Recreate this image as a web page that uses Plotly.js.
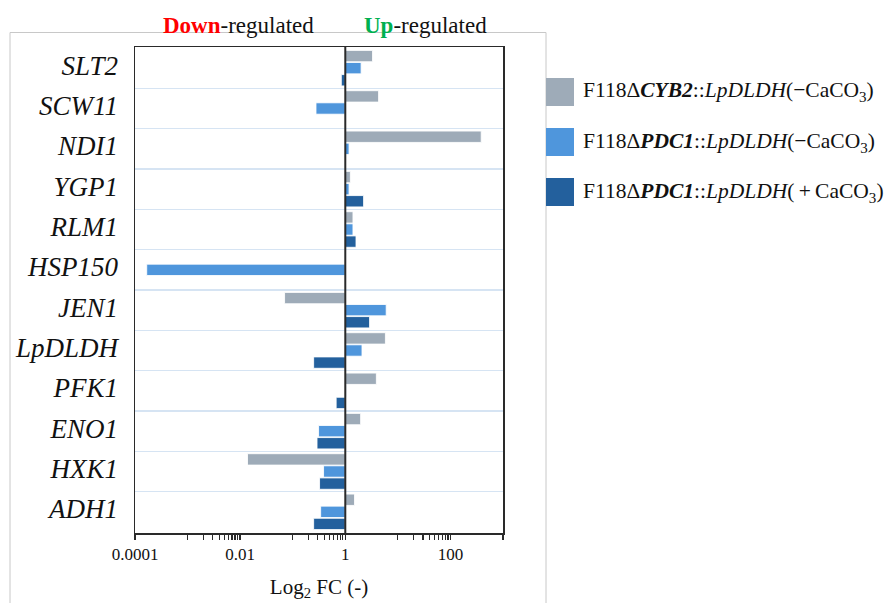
<!DOCTYPE html>
<html>
<head>
<meta charset="utf-8">
<script src="https://cdn.plot.ly/plotly-3.0.1.min.js"></script>
<style>html,body{margin:0;padding:0;background:#fff;}#chart{width:889px;height:603px;}</style>
</head>
<body>
<div id="chart"></div>
<script>
// ---- data ----
const genes = ["SLT2","SCW11","NDI1","YGP1","RLM1","HSP150","JEN1","LpDLDH","PFK1","ENO1","HXK1","ADH1"];
const cyb2_noCaCO3 = [3.3, 4.3, 385, 1.25, 1.4, null, 0.07, 5.8, 3.9, 1.96, 0.0138, 1.5];
const pdc1_noCaCO3 = [2.0, 0.277, 1.18, 1.18, 1.4, 0.000167, 6.0, 2.08, 1.04, 0.31, 0.386, 0.34];
const pdc1_CaCO3   = [0.84, null, null, 2.23, 1.6, null, 2.9, 0.25, 0.67, 0.29, 0.324, 0.25];
const seriesNames = [
  "F118Δ<b><i>CYB2</i></b>::<i>LpDLDH</i>(−CaCO<sub>3</sub>)",
  "F118Δ<b><i>PDC1</i></b>::<i>LpDLDH</i>(−CaCO<sub>3</sub>)",
  "F118Δ<b><i>PDC1</i></b>::<i>LpDLDH</i>(\u2009+\u2009CaCO<sub>3</sub>)"
];
const seriesColors = ["#9eabb8", "#4f96dc", "#23609d"];
const majorTicks = [1e-4, 1e-2, 1, 100];
const majorLabels = ["0.0001", "0.01", "1", "100"];
const minorTicks = [0.001,0.002,0.003,0.004,0.005,0.006,0.007,0.008,0.009,
                    0.1,0.2,0.3,0.4,0.5,0.6,0.7,0.8,0.9,
                    10,20,30,40,50,60,70,80,90,1000];

// ---- layout helpers (pixel -> paper) ----
const L = 135, R = 503, T = 47, B = 533;
const px = x => (x - L) / (R - L);
const py = y => (B - y) / (B - T);
const serif = "'Liberation Serif', 'DejaVu Serif', serif";

const allSeries = [cyb2_noCaCO3, pdc1_noCaCO3, pdc1_CaCO3];
const traces = allSeries.map((vals, i) => ({
  type: "bar",
  orientation: "h",
  y: genes,
  base: 1,
  x: vals.map(v => v === null ? null : v - 1),
  name: seriesNames[i],
  marker: {color: seriesColors[i], line: {color: "rgba(255,255,255,0.85)", width: 1}},
  hoverinfo: "skip"
}));

const shapes = [];
// outer chart border
shapes.push({type: "rect", xref: "paper", yref: "paper", x0: px(10), x1: px(546), y0: py(650), y1: py(32.5),
             line: {color: "#c8c8c8", width: 1}, fillcolor: "rgba(0,0,0,0)", layer: "above"});
// vertical axis line at x = 1
shapes.push({type: "line", xref: "x", yref: "paper", x0: 1, x1: 1, y0: 0, y1: 1,
             line: {color: "#2a2a2a", width: 2}});
// boundary tick marks on the x=1 axis
for (let i = 0; i <= genes.length; i++) {
  shapes.push({type: "line", xref: "x", yref: "y", xsizemode: "pixel", xanchor: 1,
               x0: -6, x1: 0, y0: i - 0.5, y1: i - 0.5, line: {color: "#2a2a2a", width: 2}});
}
// legend squares
const legY = [92, 142, 192];
const annotations = [];
for (let i = 0; i < 3; i++) {
  shapes.push({type: "rect", xref: "paper", yref: "paper", x0: px(546), x1: px(574),
               y0: py(legY[i] + 14), y1: py(legY[i] - 14), fillcolor: seriesColors[i],
               line: {width: 0}, layer: "above"});
  annotations.push({xref: "paper", yref: "paper", x: px(581), y: py(legY[i]), xanchor: "left", yanchor: "middle",
                    text: seriesNames[i], showarrow: false, font: {family: serif, size: 21.5, color: "#111"}});
}
annotations.push({xref: "paper", yref: "paper", x: px(238), y: py(25), xanchor: "center", yanchor: "middle",
  text: "<b><span style='color:#ff0000'>Down</span></b>-regulated", showarrow: false,
  font: {family: serif, size: 23, color: "#111"}});
annotations.push({xref: "paper", yref: "paper", x: px(425), y: py(25), xanchor: "center", yanchor: "middle",
  text: "<b><span style='color:#00b050'>Up</span></b>-regulated", showarrow: false,
  font: {family: serif, size: 23, color: "#111"}});

const layout = {
  width: 889, height: 603,
  margin: {l: L, r: 889 - R, t: T, b: 603 - B, pad: 0},
  paper_bgcolor: "#ffffff",
  plot_bgcolor: "rgba(0,0,0,0)",
  showlegend: false,
  barmode: "group",
  bargap: 0.1,
  bargroupgap: 0.06,
  xaxis: {
    type: "log", range: [-4, 3],
    tickvals: majorTicks, ticktext: majorLabels,
    ticks: "outside", ticklen: 5, tickwidth: 1.5, tickcolor: "#2a2a2a",
    minor: {tickvals: minorTicks, ticks: "outside", ticklen: 5, tickwidth: 1.2, tickcolor: "#2a2a2a", showgrid: false},
    showgrid: false, zeroline: false,
    showline: true, mirror: true, linecolor: "#2a2a2a", linewidth: 1.5,
    tickfont: {family: serif, size: 17, color: "#111"},
    title: {text: "Log<sub>2</sub> FC (-)", font: {family: serif, size: 21, color: "#111"}, standoff: 16}
  },
  yaxis: {
    type: "category", autorange: "reversed",
    tickson: "boundaries", ticks: "",
    showgrid: true, gridcolor: "#d6e4f3", gridwidth: 1.5,
    showline: true, mirror: true, linecolor: "#2a2a2a", linewidth: 1.5,
    zeroline: false,
    tickfont: {family: serif, size: 27, color: "#111", style: "italic"},
    ticklabelstandoff: 10,
    ticklabelshift: 3
  },
  shapes: shapes,
  annotations: annotations
};

Plotly.newPlot("chart", traces, layout, {displayModeBar: false, staticPlot: true});
</script>
</body>
</html>
